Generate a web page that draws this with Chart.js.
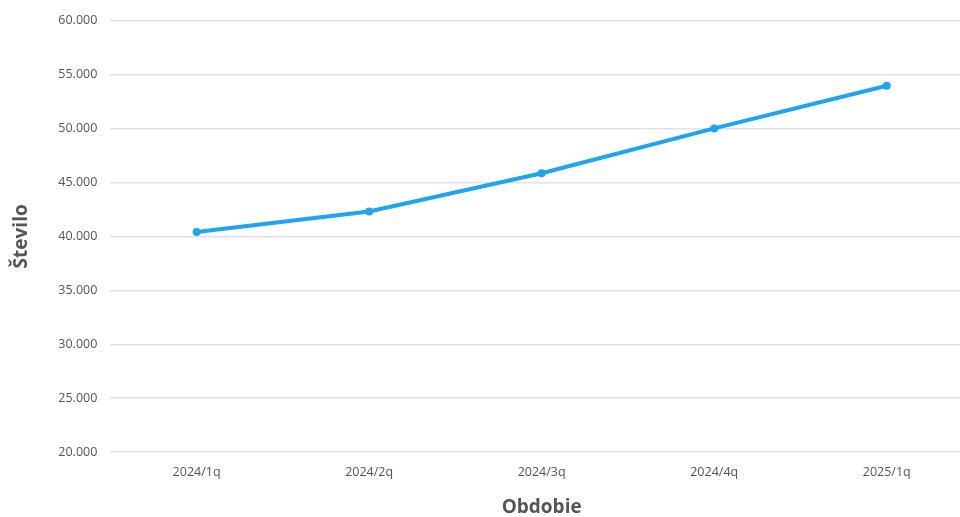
<!DOCTYPE html>
<html>
<head>
<meta charset="utf-8">
<script src="https://cdn.jsdelivr.net/npm/chart.js@4/dist/chart.umd.min.js"></script>
<style>
  html, body { margin: 0; padding: 0; background: #fff; overflow: hidden; }
  #wrap { width: 978px; height: 519px; }
</style>
</head>
<body>
<div id="wrap"><canvas id="myChart" width="978" height="519"></canvas></div>
<script>
// podatki
const obdobja = ['2024/1q', '2024/2q', '2024/3q', '2024/4q', '2025/1q'];
const stevilo = [40400, 42300, 45850, 50000, 53950];
const yMin = 20000;
const yMax = 60000;
const yStep = 5000;

const myChart = document.getElementById('myChart');

const fmt = v => v.toLocaleString('de-DE', {minimumFractionDigits: 0});

new Chart(myChart, {
  type: 'line',
  data: {
    labels: obdobja,
    datasets: [{
      label: 'Število',
      data: stevilo,
      borderColor: '#1ea5ef',
      backgroundColor: '#1ea5ef',
      borderWidth: 4,
      pointRadius: 4,
      pointBorderWidth: 0,
      pointHoverRadius: 5,
      tension: 0
    }]
  },
  options: {
    responsive: false,
    animation: false,
    layout: { padding: { top: 12, bottom: 0, left: 10, right: 0 } },
    plugins: {
      legend: { display: false },
      tooltip: { enabled: false }
    },
    scales: {
      x: {
        offset: true,
        grid: { display: false },
        border: { display: false },
        ticks: {
          color: '#555',
          font: { family: 'Open Sans', size: 12.5 },
          padding: 5
        },
        title: {
          display: true,
          text: 'Obdobie',
          color: '#555',
          font: { family: 'Open Sans', size: 19, weight: 'bold' },
          padding: { top: 11, bottom: 0 }
        }
      },
      y: {
        min: yMin,
        max: yMax,
        border: { display: false },
        grid: { color: '#e2e2e2', lineWidth: 1.5, drawTicks: false },
        ticks: {
          stepSize: yStep,
          color: '#555',
          font: { family: 'Open Sans', size: 12.5 },
          padding: 13,
          callback: v => fmt(v)
        },
        title: {
          display: true,
          text: 'Število',
          color: '#555',
          font: { family: 'Open Sans', size: 19, weight: 'bold' },
          padding: { top: 0, bottom: 12.5 }
        }
      }
    }
  }
});
</script>
</body>
</html>
